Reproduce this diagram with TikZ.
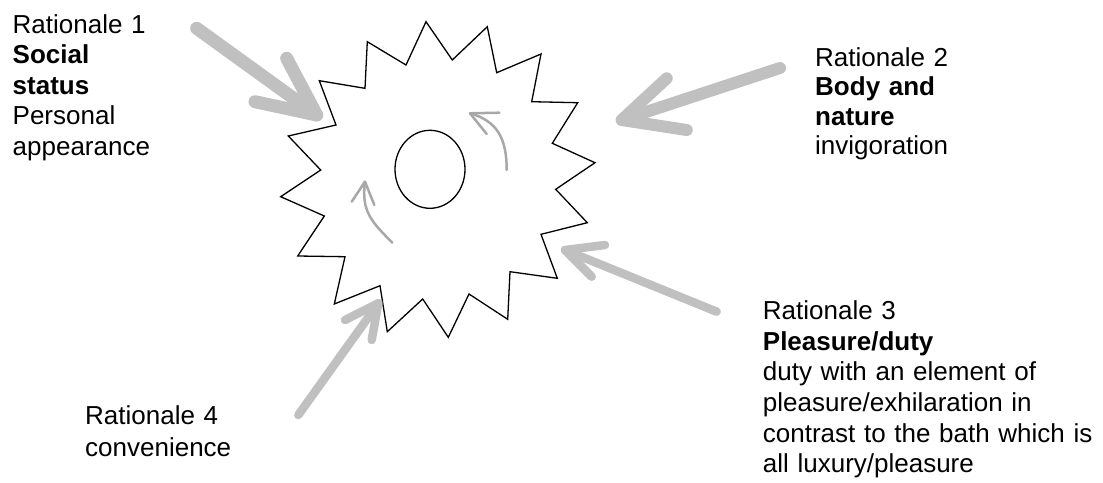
\documentclass[tikz,border=0pt]{standalone}
\usepackage{fontspec}
\setmainfont{Liberation Sans}
\usetikzlibrary{shapes.geometric}
\definecolor{biggray}{RGB}{192,192,192}
\definecolor{smallgray}{RGB}{168,168,168}
\begin{document}
\begin{tikzpicture}[x=1pt,y=-1pt,
  lbl/.style={anchor=base west, inner sep=0pt, text width=400pt, align=left, font=\fontsize{26}{30.5}\selectfont},
  bigarrow/.style={draw=biggray, line cap=round, line join=round},
  smallarrow/.style={draw=smallgray, line width=2.5pt, line cap=round, line join=round},
  outline/.style={draw=black, line width=1.3pt, line join=miter}]
\useasboundingbox[fill=white] (0,0) rectangle (1103,482);

% star burst
\draw[outline] (426,21.7) -- (452.3,60) -- (487.3,26.7) -- (496.7,72.7) -- (541,54)
  -- (531.7,101.7) -- (577.7,102.7) -- (552.3,143.3) -- (595,162.7) -- (555.7,189.3)
  -- (587.3,222.7) -- (541,234.3) -- (557.3,278.3) -- (510,271.7) -- (507.7,319.3)
  -- (469,294) -- (448.3,337.3) -- (422.7,299) -- (387.3,331.7) -- (380,285.7)
  -- (334.3,304) -- (345,256.7) -- (297.7,256) -- (324.3,216) -- (280.7,196.7)
  -- (320.7,170) -- (288.3,136) -- (336,125) -- (319.3,80.7) -- (365,88.3)
  -- (367.3,41.7) -- (406,65) -- cycle;

% inner circle
\node[outline, ellipse, minimum width=70pt, minimum height=78pt, inner sep=0pt] (core) at (430,169.3) {};

% small curved arrows
\coordinate (sa1) at (506.7,170);
\coordinate (ta1) at (470,113.3);
\coordinate (ha1) at (499.3,112.7);
\coordinate (hb1) at (486.7,134);
\draw[smallarrow] (sa1) .. controls (506.7,138) and (497,121) .. (ta1);
\draw[smallarrow] (ha1) -- (ta1) -- (hb1);

\coordinate (sa2) at (392.3,242.7);
\coordinate (ta2) at (365,181.7);
\coordinate (ha2) at (351.7,201.7);
\coordinate (hb2) at (374.3,205);
\draw[smallarrow] (sa2) .. controls (372,222) and (361,212) .. (ta2);
\draw[smallarrow] (ha2) -- (ta2) -- (hb2);

% labels
\node[lbl] (r1) at (12.5,33) {Rationale 1\\\textbf{Social}\\\textbf{status}\\Personal\\appearance};
\node[lbl, font=\fontsize{26}{29.3}\selectfont] (r2) at (815,66.5) {Rationale 2\\\textbf{Body and}\\\textbf{nature}\\invigoration};
\node[lbl, font=\fontsize{26}{30.7}\selectfont] (r3) at (762.7,319.3) {Rationale 3\\\textbf{Pleasure/duty}\\duty with an element of\\pleasure/exhilaration in\\contrast to the bath which is\\all luxury/pleasure};
\node[lbl, font=\fontsize{26}{32}\selectfont] (r4) at (85,424.3) {Rationale 4\\convenience};

% big arrows
\coordinate (s1) at (196.7,28.3);
\coordinate (t1) at (316.7,115);
\coordinate (b1a) at (286.7,58.3);
\coordinate (b1b) at (255,101.7);
\draw[bigarrow, line width=13pt] (s1) -- (t1);
\draw[bigarrow, line width=13pt] (b1a) -- (t1) -- (b1b);

\coordinate (s2) at (780,68);
\coordinate (t2) at (621.7,120);
\coordinate (b2a) at (666.7,78.3);
\coordinate (b2b) at (686.7,130);
\draw[bigarrow, line width=12pt] (s2) -- (t2);
\draw[bigarrow, line width=12pt] (b2a) -- (t2) -- (b2b);

\coordinate (s3) at (716.7,311.7);
\coordinate (t3) at (565,250);
\coordinate (b3a) at (605,245);
\coordinate (b3b) at (591.7,276.7);
\draw[bigarrow, line width=8.5pt] (s3) -- (t3);
\draw[bigarrow, line width=8.5pt] (b3a) -- (t3) -- (b3b);

\coordinate (s4) at (298.3,415);
\coordinate (t4) at (378.3,303.3);
\coordinate (b4a) at (345,320);
\coordinate (b4b) at (371.7,340);
\draw[bigarrow, line width=8.5pt] (s4) -- (t4);
\draw[bigarrow, line width=8.5pt] (b4a) -- (t4) -- (b4b);
\end{tikzpicture}
\end{document}
